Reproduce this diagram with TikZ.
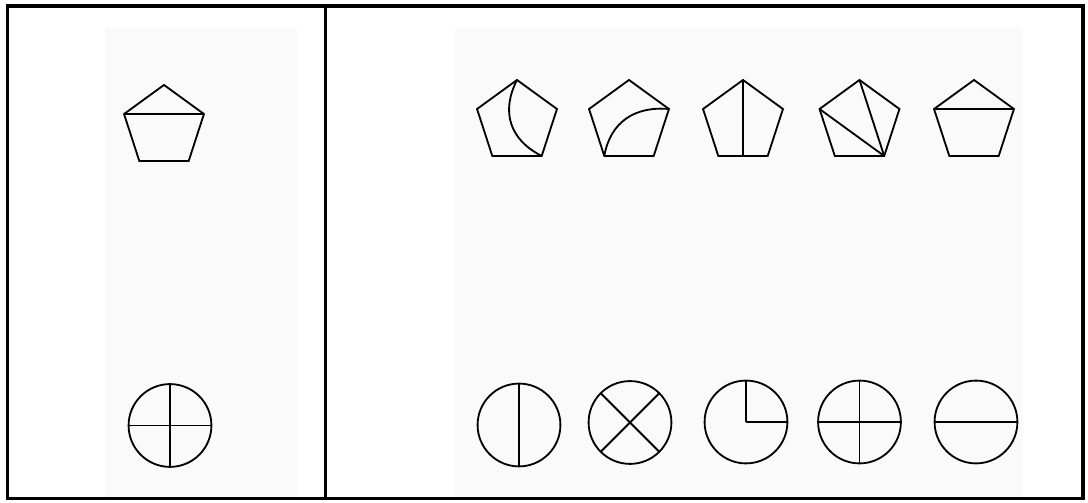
\documentclass[tikz,border=0pt]{standalone}
\usepackage{tikz}
\usetikzlibrary{shapes.geometric}

\begin{document}
\begin{tikzpicture}[
x=0.025cm, y=0.025cm,
penta/.style={draw, regular polygon, regular polygon sides=5, minimum size=2.1cm, inner sep=0pt, outer sep=0pt, line width=1.3pt},
disc/.style={draw, circle, minimum size=2.07cm, inner sep=0pt, outer sep=0pt, line width=1.3pt},
inner/.style={line width=1.3pt},
frame/.style={line width=2.5pt},
paper/.style={fill=black!2}
]
\useasboundingbox (0,0) rectangle (1088,503);

\fill[paper] (105,6) rectangle (297,475);
\fill[paper] (455,6) rectangle (1022,476);

\draw[frame] (7.3,4.5) rectangle (1083,497);
\draw[frame] (325.5,4.5) -- (325.5,497);

\node[penta] (q0) at (164,376) {};
\node[disc] (k0) at (170,77.5) {};

\node[penta] (p1) at (517,381) {};
\node[penta] (p2) at (629,381) {};
\node[penta] (p3) at (743,381) {};
\node[penta] (p4) at (859.5,381) {};
\node[penta] (p5) at (974,381) {};

\node[disc] (c1) at (519,78) {};
\node[disc] (c2) at (630,80.5) {};
\node[disc] (c3) at (746,81) {};
\node[disc] (c4) at (859.5,81) {};
\node[disc] (c5) at (976,81) {};

\draw[inner] (q0.corner 2) -- (q0.corner 5);
\draw[inner] (k0.north) -- (k0.south);
\draw[inner] (k0.west) -- (k0.east);

\draw[inner] (p1.corner 1) to[bend right=45, looseness=1.15] (p1.corner 4);
\draw[inner] (p2.corner 3) to[out=80, in=175, looseness=1.1] (p2.corner 5);
\draw[inner] (p3.corner 1) -- (p3.corner 1 |- p3.corner 3);
\draw[inner] (p4.corner 4) -- (p4.corner 1);
\draw[inner] (p4.corner 4) -- (p4.corner 2);
\draw[inner] (p5.corner 2) -- (p5.corner 5);

\draw[inner] (c1.north) -- (c1.south);
\draw[inner] (c2.45) -- (c2.225);
\draw[inner] (c2.135) -- (c2.315);
\draw[inner] (c3.center) -- (c3.north);
\draw[inner] (c3.center) -- (c3.east);
\draw[inner] (c4.north) -- (c4.south);
\draw[inner] (c4.west) -- (c4.east);
\draw[inner] (c5.west) -- (c5.east);

\end{tikzpicture}
\end{document}
